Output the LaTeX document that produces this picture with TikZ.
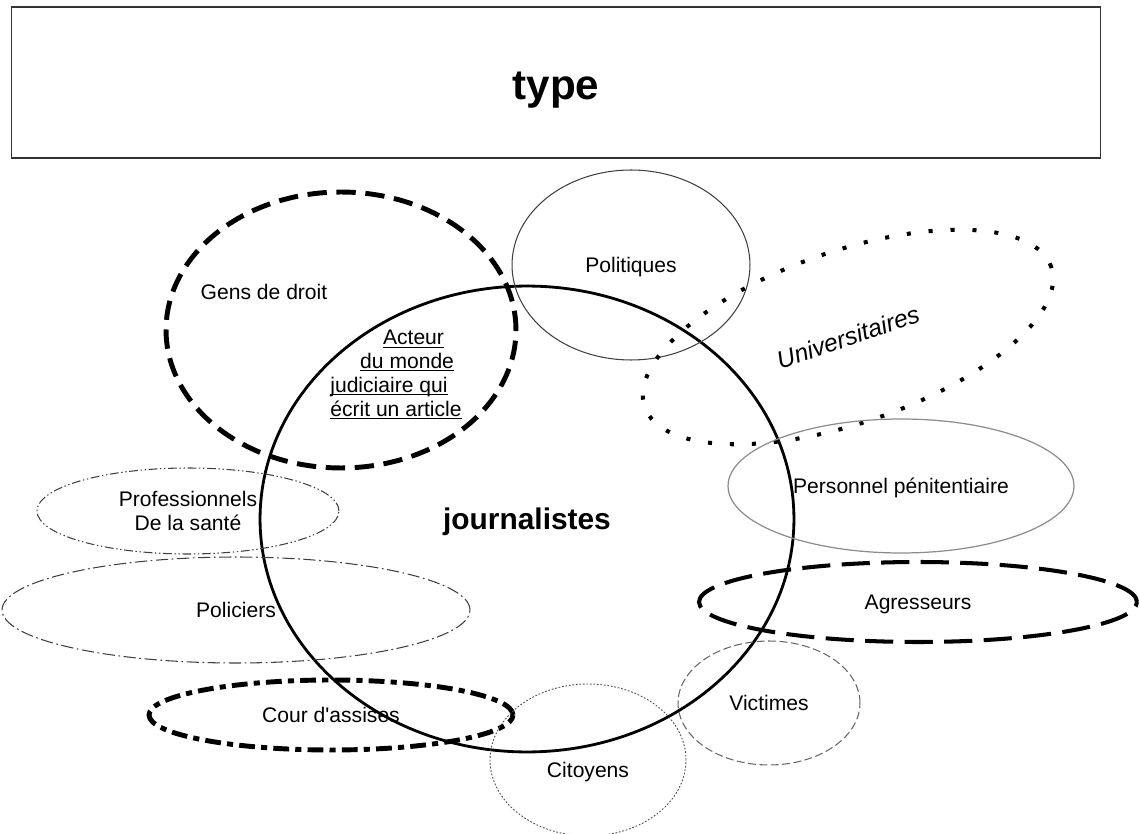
\documentclass[tikz,border=0pt]{standalone}
\usepackage{fontspec}
\setmainfont{Liberation Sans}
\usetikzlibrary{shapes.geometric}
\newcommand{\ulin}[1]{\underline{\smash{#1}}}

\begin{document}
\begin{tikzpicture}[
          x=0.02cm, y=-0.02cm,
          font=\fontsize{12pt}{13.6pt}\selectfont,
          set/.style={ellipse, inner sep=0pt, align=center, text depth=0pt},
          plainset/.style={set, draw=black!75, line width=0.6pt},
          heavydash/.style={set, draw, line width=2.8pt, dash pattern=on 11pt off 5.5pt},
          heavydashdot/.style={set, draw, line width=2.8pt, dash pattern=on 9pt off 3.5pt on 3.5pt off 3.5pt},
          longdash/.style={set, draw, line width=2.3pt, dash pattern=on 16pt off 6.5pt},
          bigdots/.style={set, draw, line width=2.3pt, dash pattern=on 2.3pt off 10.2pt},
          finedash/.style={set, draw=black!60, line width=0.6pt, dash pattern=on 4.5pt off 2pt},
          finedots/.style={set, draw=black!70, line width=0.5pt, dash pattern=on 1pt off 1pt},
          dashdot/.style={set, draw=black!75, line width=0.6pt, dash pattern=on 7pt off 2pt on 1pt off 2pt},
          dashdotdot/.style={set, draw=black!75, line width=0.6pt, dash pattern=on 5pt off 1.5pt on 0.8pt off 1.5pt on 0.8pt off 1.5pt},
          lbl/.style={inner sep=0pt}
      ]
        \useasboundingbox (0,0) rectangle (1140,834);
        \node[draw=black!80, line width=0.6pt, minimum width=21.8cm, minimum height=3.02cm] (title) at (556,82.5) {};
        \node[lbl, font=\fontsize{24pt}{28pt}\selectfont\bfseries] (titlelbl) at (556,90) {type};
        \node[set, draw, line width=1.6pt, minimum width=10.68cm, minimum height=9.32cm, font=\fontsize{17pt}{20pt}\selectfont\bfseries] (journ) at (527,519) {journalistes};
        \node[heavydash, minimum width=7cm, minimum height=5.52cm] (droit) at (341,330) {};
        \node[lbl] (droitlbl) at (264,292) {Gens de droit};
        \node[lbl, anchor=west, align=left] (acteur) at (330,382) {\hspace*{30pt}\ulin{Acteur}\\ \hspace*{17pt}\ulin{du monde}\\ \ulin{judiciaire qui}\\ \ulin{écrit un article}};
        \node[plainset, minimum width=4.76cm, minimum height=3.8cm] (polit) at (631,265) {Politiques};
        \node[bigdots, minimum width=8.6cm, minimum height=3.44cm, rotate=19, font=\fontsize{14pt}{16pt}\selectfont\itshape] (univ) at (848,337) {Universitaires};
        \node[set, draw=black!45, line width=0.7pt, minimum width=6.92cm, minimum height=2.68cm] (penit) at (901,486) {Personnel pénitentiaire};
        \node[dashdotdot, minimum width=6.04cm, minimum height=1.72cm] (sante) at (188,511) {Professionnels\\De la santé};
        \node[dashdot, minimum width=9.36cm, minimum height=2.12cm] (polic) at (236,610) {Policiers};
        \node[heavydashdot, minimum width=7.28cm, minimum height=1.4cm] (assises) at (331,715) {Cour d\textquotesingle assises};
        \node[longdash, minimum width=8.76cm, minimum height=1.6cm] (agress) at (918,602) {Agresseurs};
        \node[finedash, minimum width=3.64cm, minimum height=2.48cm] (victim) at (769,703) {Victimes};
        \node[finedots, minimum width=3.92cm, minimum height=3.04cm] (citoy) at (588,760) {};
        \node[lbl] (citoylbl) at (588,772) {Citoyens};
      \end{tikzpicture}
\end{document}
